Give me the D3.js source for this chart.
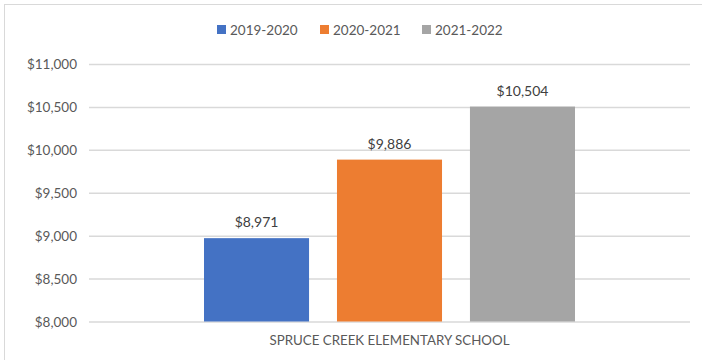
<!DOCTYPE html>
<html><head><meta charset="utf-8">
<script src="https://cdn.jsdelivr.net/npm/d3@7"></script>
<style>body{margin:0;background:#fff}svg{display:block}text{font-family:Lato,"Open Sans",sans-serif}</style>
</head><body><svg id="c" width="702" height="360"></svg>
<script>
const categories = ["SPRUCE CREEK ELEMENTARY SCHOOL"];
const seriesNames = ["2019-2020", "2020-2021", "2021-2022"];
const seriesValues = [8971, 9886, 10504];
const seriesColors = ["#4472C4", "#ED7D31", "#A5A5A5"];
const yTicks = [8000, 8500, 9000, 9500, 10000, 10500, 11000];

const svg = d3.select("#c");
svg.append("rect").attr("x",4.5).attr("y",4.5).attr("width",710).attr("height",370)
  .attr("fill","#fff").attr("stroke","#d9d9d9");

const x0 = d3.scaleBand().domain(categories).range([89, 690]);
const x1 = d3.scaleBand().domain(seriesNames).range([x0(categories[0]) + 115, x0(categories[0]) + x0.bandwidth() - 115]).paddingInner(0.21);
const y = d3.scaleLinear().domain([8000, 11000]).range([321.5, 64]);
const fmt = v => "$" + d3.format(",")(v);

const yAxis = svg.append("g").attr("transform","translate(89,0)")
  .call(d3.axisLeft(y).tickValues(yTicks).tickSize(-601).tickFormat(fmt).tickPadding(12));
yAxis.select(".domain").remove();
yAxis.selectAll("line").attr("stroke","#d9d9d9").attr("stroke-width",1.5);
yAxis.selectAll("text").attr("fill","#595959").attr("font-size","13.5px").attr("dy","0.35em");

svg.append("g").selectAll("rect").data(seriesValues).join("rect")
  .attr("x",(d,i)=>x1(seriesNames[i])).attr("width",x1.bandwidth())
  .attr("y",d=>y(d)).attr("height",d=>y(8000)-y(d))
  .attr("fill",(d,i)=>seriesColors[i]);

svg.append("g").selectAll("text").data(seriesValues).join("text")
  .attr("x",(d,i)=>x1(seriesNames[i])+x1.bandwidth()/2).attr("y",d=>y(d)-11)
  .attr("text-anchor","middle").attr("fill","#404040").attr("font-size","14px")
  .text(fmt);

const xAxis = svg.append("g").attr("transform","translate(0,321.5)")
  .call(d3.axisBottom(x0).tickSize(0).tickPadding(14));
xAxis.select(".domain").remove();
xAxis.selectAll("text").attr("fill","#595959").attr("font-size","13px").attr("textLength",240).attr("lengthAdjust","spacingAndGlyphs");

const legX = [217, 320, 422];
const leg = svg.append("g").selectAll("g").data(seriesNames).join("g")
  .attr("transform",(d,i)=>`translate(${legX[i]},24)`);
leg.append("rect").attr("width",9).attr("height",9).attr("y",1).attr("fill",(d,i)=>seriesColors[i]);
leg.append("text").attr("x",13).attr("y",6).attr("dy","0.35em").attr("fill","#595959").attr("font-size","13.5px").text(d=>d);
</script></body></html>
